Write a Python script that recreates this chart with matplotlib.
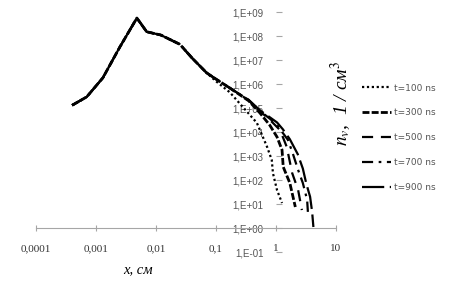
import numpy as np
import matplotlib.pyplot as plt
from matplotlib.ticker import FixedLocator, FixedFormatter, NullLocator

plt.rcParams['mathtext.fontset'] = 'stix'

# common part of all curves (x in cm, n in 1/cm^3)
common_x = [0.0004, 0.0007, 0.0013, 0.0025, 0.0048, 0.007, 0.012, 0.025, 0.04, 0.07]
common_y = [1.3e5, 2.9e5, 1.8e6, 3.5e7, 5.6e8, 1.5e8, 1.1e8, 4.5e7, 1.2e7, 2.9e6]

# tails after the curves split
t100_x = [0.1, 0.17, 0.28, 0.48, 0.71, 0.85, 0.89, 1.04, 1.26]
t100_y = [1.3e6, 4.5e5, 1.1e5, 2.4e4, 2.4e3, 6.8e2, 1.9e2, 38, 11]
t300_x = [0.1, 0.17, 0.35, 0.54, 0.79, 1.04, 1.26, 1.32, 1.7, 2.1]
t300_y = [1.6e6, 6.8e5, 2.0e5, 6.2e4, 1.9e4, 6.2e3, 1.8e3, 350, 75, 7.5]
t500_x = [0.1, 0.17, 0.35, 0.54, 0.71, 1.17, 1.51, 1.86, 2.34, 2.7]
t500_y = [1.6e6, 6.8e5, 2.1e5, 7.0e4, 4.2e4, 1.2e4, 2.4e3, 195, 38, 5.6]
t700_x = [0.1, 0.17, 0.35, 0.54, 0.8, 1.04, 1.58, 1.9, 2.34, 2.8, 3.3, 3.4]
t700_y = [1.6e6, 6.8e5, 2.1e5, 7.5e4, 3.5e4, 1.95e4, 4.7e3, 1.3e3, 260, 75, 15, 4.7]
t900_x = [0.1, 0.17, 0.35, 0.54, 0.8, 1.04, 1.3, 1.7, 2.3, 2.8, 3.2, 3.7, 4.0, 4.2]
t900_y = [1.6e6, 6.8e5, 2.2e5, 8.0e4, 4.0e4, 2.5e4, 1.3e4, 5.0e3, 1.2e3, 300, 70, 20, 4.7, 1.1]

labels = ['t=100 ns', 't=300 ns', 't=500 ns', 't=700 ns', 't=900 ns']
tails = [(t100_x, t100_y), (t300_x, t300_y), (t500_x, t500_y),
         (t700_x, t700_y), (t900_x, t900_y)]
styles = [dict(dashes=(1, 1.2), lw=1.6),
          dict(dashes=(2.5, 0.8), lw=2.0),
          dict(dashes=(5, 3.5), lw=1.6),
          dict(dashes=(5, 2.5, 1.2, 2.5), lw=1.6),
          dict(dashes=(10, 2.5), lw=1.6)]

xticks = [1e-4, 1e-3, 1e-2, 1e-1, 1, 10]
xticklabels = ['0,0001', '0,001', '0,01', '0,1', '1', '10']
yticks = [10.0 ** e for e in range(-1, 10)]
yticklabels = [f'1,E{e:+03d}' for e in range(-1, 10)]

fig = plt.figure(figsize=(4.62, 2.84), dpi=100)
ax = fig.add_axes([36 / 462, 1 - 252 / 284, 300 / 462, 240 / 284])

for (tx, ty), lab, st in zip(tails, labels, styles):
    ax.plot(common_x + tx, common_y + ty, color='black', label=lab,
            solid_capstyle='butt', dash_capstyle='butt', **st)

ax.set_xscale('log')
ax.set_yscale('log')
ax.set_xlim(1e-4, 10)
ax.set_ylim(1e-1, 1e9)

for s in ['top', 'right']:
    ax.spines[s].set_visible(False)
ax.spines['bottom'].set_position(('data', 1))
ax.spines['bottom'].set_color('#a6a6a6')
ax.spines['left'].set_position(('data', 1))
ax.spines['left'].set_color('none')

ax.xaxis.set_major_locator(FixedLocator(xticks))
ax.xaxis.set_major_formatter(FixedFormatter(xticklabels))
ax.xaxis.set_minor_locator(NullLocator())
ax.yaxis.set_major_locator(FixedLocator(yticks))
ax.yaxis.set_major_formatter(FixedFormatter(yticklabels))
ax.yaxis.set_minor_locator(NullLocator())

ax.tick_params(axis='x', direction='inout', length=5, color='#a6a6a6',
               pad=9, labelsize=8, labelcolor='#333333')
ax.tick_params(axis='y', direction='in', length=4, color='#a6a6a6',
               pad=9, labelsize=7, labelcolor='#555555')
for t in ax.get_xticklabels():
    t.set_family('Liberation Serif')
for t in ax.get_yticklabels():
    t.set_family('Liberation Sans')

fig.text(138 / 462, 1 - 270 / 284, 'x, см', ha='center', va='center',
         family='Liberation Serif', style='italic', fontsize=10.5)
fig.text(341 / 462, 1 - 103 / 284, r'$n_v$,  1 / см$^3$', ha='center', va='center',
         rotation=90, family='Liberation Serif', style='italic', fontsize=14)

leg = ax.legend(loc='upper left', bbox_to_anchor=(358 / 462, 1 - 80 / 284),
                bbox_transform=fig.transFigure, frameon=False, fontsize=6.5,
                handlelength=3.2, handletextpad=0.4, labelspacing=1.75,
                borderaxespad=0)
for t in leg.get_texts():
    t.set_color('#555555')

fig.savefig('out.png', dpi=100)
